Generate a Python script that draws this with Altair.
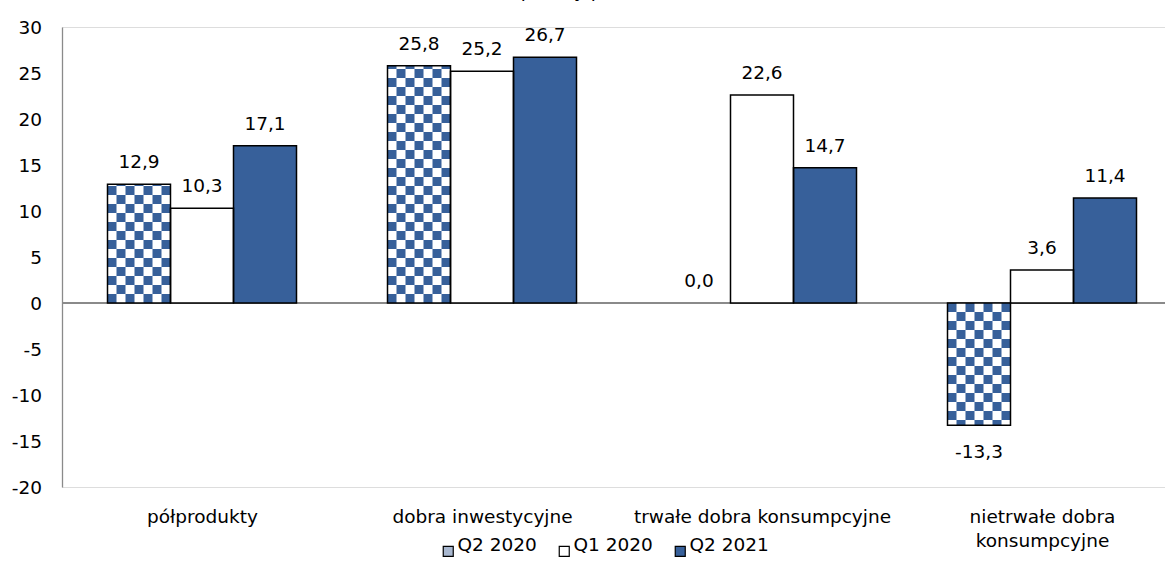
import json
import altair as alt
import pandas as pd

# --- data -------------------------------------------------------------
categories = [
    "półprodukty",
    "dobra inwestycyjne",
    "trwałe dobra konsumpcyjne",
    "nietrwałe dobra\nkonsumpcyjne",
]
series = ["Q2 2020", "Q1 2020", "Q2 2021"]
q2_2020 = [12.9, 25.8, 0.0, -13.3]
q1_2020 = [10.3, 25.2, 22.6, 3.6]
q2_2021 = [17.1, 26.7, 14.7, 11.4]
y_ticks = [-20, -15, -10, -5, 0, 5, 10, 15, 20, 25, 30]

rows = []
for s_idx, (name, vals) in enumerate(zip(series, [q2_2020, q1_2020, q2_2021])):
    for c_idx, v in enumerate(vals):
        rows.append({"cat": c_idx, "series": name, "s": s_idx, "value": v})
df = pd.DataFrame(rows)

# --- styling constants ------------------------------------------------
FONT = "DejaVu Sans"
FS = 18.5
BLUE = "#37609a"
LEGEND_MIX = "#a9b8d0"
W, H = 1103, 460
PX_PER_CAT = 280.0              # pixels between category centres
BAR_PX = 63.0                   # bar width in pixels
N_COLS = 7                      # checker columns per patterned bar
SQ = BAR_PX / N_COLS            # checker square size in pixels
BW = BAR_PX / PX_PER_CAT        # bar width in x-units
X_DOMAIN = [-0.5, -0.5 + W / PX_PER_CAT]

label_expr = (
    "replace(replace(format(datum.value, '.1f'), '.', ','), '\u2212', '-')"
)
cat_label_expr = (
    "split(" + json.dumps(categories, ensure_ascii=False) + "[datum.value], '\\n')"
)

x_scale = alt.Scale(domain=X_DOMAIN, nice=False, zero=False)
y_scale = alt.Scale(domain=[-20, 30], nice=False, zero=False)

base = alt.Chart(df).transform_calculate(
    center=f"datum.cat + (datum.s - 1) * {BW}",
    x0=f"datum.cat + (datum.s - 1) * {BW} - {BW / 2}",
    x1=f"datum.cat + (datum.s - 1) * {BW} + {BW / 2}",
    zero="0",
)

x_axis = alt.Axis(
    values=[0, 1, 2, 3],
    labelExpr=cat_label_expr,
    domain=False,
    ticks=False,
    grid=False,
    labelPadding=20,
    labelFontSize=FS,
    labelLineHeight=24.5,
    labelFlush=False,
    labelOverlap=False,
    labelBound=False,
    labelLimit=0,
    labelColor="#000000",
    labelFont=FONT,
    title=None,
)
y_axis = alt.Axis(
    values=y_ticks,
    labelExpr="'' + datum.value",
    domain=True,
    domainColor="#8a8a8a",
    domainWidth=1.3,
    ticks=False,
    grid=False,
    labelPadding=20.5,
    labelFontSize=FS,
    labelColor="#000000",
    labelFont=FONT,
    title=None,
)

# zero line across the plot
zero_line = alt.Chart(df).mark_rule(color="#8a8a8a", strokeWidth=1.3).encode(
    y=alt.datum(0, scale=y_scale)
)

# bar fills (legend comes from this layer)
bars = base.transform_filter("datum.value != 0").mark_bar().encode(
    x=alt.X("x0:Q", scale=x_scale, axis=x_axis),
    x2="x1:Q",
    y=alt.Y("value:Q", scale=y_scale, axis=y_axis),
    y2="zero:Q",
    fill=alt.Fill(
        "series:N",
        scale=alt.Scale(domain=series, range=[LEGEND_MIX, "#ffffff", BLUE]),
        legend=alt.Legend(
            title=None,
            orient="none",
            legendX=377,
            legendY=515,
            direction="horizontal",
            symbolType="square",
            symbolSize=100,
            symbolStrokeColor="#000000",
            symbolStrokeWidth=1.2,
            labelFontSize=FS,
            labelFont=FONT,
            labelColor="#000000",
            labelOffset=0,
            labelBaseline="alphabetic",
            columnPadding=18,
            padding=0,
        ),
    ),
)

# checkerboard for the Q2 2020 bars: white base, then dashed blue columns
q2_only = base.transform_filter(
    "datum.series == 'Q2 2020' && datum.value != 0"
)
white_base = q2_only.mark_bar(fill="#ffffff").encode(
    x="x0:Q", x2="x1:Q", y="value:Q", y2="zero:Q"
)
cols = q2_only.transform_calculate(col=f"sequence(0, {N_COLS})").transform_flatten(
    ["col"]
).transform_calculate(cx=f"datum.x0 + (datum.col + 0.5) * {BW / N_COLS}")

checker_even = cols.transform_filter("datum.col % 2 == 0").mark_rule(
    color=BLUE, strokeWidth=SQ, strokeDash=[SQ, SQ], strokeDashOffset=0
).encode(x="cx:Q", y="zero:Q", y2="value:Q")
checker_odd = cols.transform_filter("datum.col % 2 == 1").mark_rule(
    color=BLUE, strokeWidth=SQ, strokeDash=[SQ, SQ], strokeDashOffset=SQ
).encode(x="cx:Q", y="zero:Q", y2="value:Q")

# black outlines on top
outlines = base.transform_filter("datum.value != 0").mark_bar(
    fillOpacity=0, stroke="#000000", strokeWidth=1.5
).encode(x="x0:Q", x2="x1:Q", y="value:Q", y2="zero:Q")

# value labels
labels = base.transform_calculate(label=label_expr)
labels_pos = labels.transform_filter("datum.value >= 0").mark_text(
    dy=-16, baseline="alphabetic", align="center", fontSize=FS, font=FONT, color="#000000"
).encode(x="center:Q", y="value:Q", text="label:N")
labels_neg = labels.transform_filter("datum.value < 0").mark_text(
    dy=33, baseline="alphabetic", align="center", fontSize=FS, font=FONT, color="#000000"
).encode(x="center:Q", y="value:Q", text="label:N")

chart = alt.layer(
    zero_line, bars, white_base, checker_even, checker_odd, outlines, labels_pos, labels_neg
).properties(
    width=W,
    height=H,
    autosize=alt.AutoSizeParams(type="none"),
    padding={"left": 62, "top": 27, "right": 0, "bottom": 78},
    title=alt.TitleParams(
        "punkty proc., r/r",
        fontSize=FS,
        font=FONT,
        fontWeight="normal",
        color="#000000",
        anchor="middle",
        dx=-18,
        dy=-14,
    ),
).configure_view(stroke=None).configure(background="#ffffff")

chart.save("out.html", embed_options={"renderer": "svg", "actions": False})
